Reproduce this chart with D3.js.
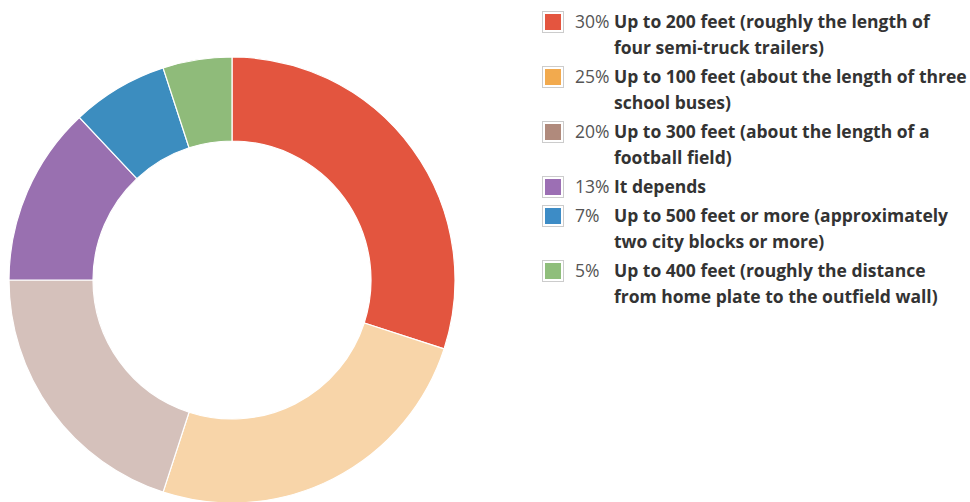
<!DOCTYPE html>
<html>
<head>
<meta charset="utf-8">
<script src="https://cdn.jsdelivr.net/npm/d3@7"></script>
<style>
body { margin: 0; background: #fff; }
svg { display: block; font-family: "Open Sans", sans-serif; }
.pct { fill: #555; font-size: 17.5px; }
.lbl { fill: #333; font-size: 17.5px; font-weight: bold; }
</style>
</head>
<body>
<div id="chart"></div>
<script>
var labels = [
	"Up to 200 feet (roughly the length of four semi-truck trailers)",
	"Up to 100 feet (about the length of three school buses)",
	"Up to 300 feet (about the length of a football field)",
	"It depends",
	"Up to 500 feet or more (approximately two city blocks or more)",
	"Up to 400 feet (roughly the distance from home plate to the outfield wall)"
];
var values = [30, 25, 20, 13, 7, 5];
var sliceColors = ["#e3553f", "#f8d5a9", "#d5c1bb", "#9970b0", "#3c8dbf", "#8fbb7a"];
var swatchColors = ["#e4553f", "#f2aa4e", "#b08a7c", "#9c6fb4", "#3d8cc6", "#8fbe7b"];

var width = 970, height = 502;
var svg = d3.select("#chart").append("svg")
			.attr("width", width)
			.attr("height", height);

var pie = d3.pie().sort(null).value(function(d){ return d; });
var arc = d3.arc().innerRadius(139).outerRadius(223);

var g = svg.append("g").attr("transform", "translate(232,280)");
g.selectAll("path")
	.data(pie(values))
	.enter()
	.append("path")
	.attr("d", arc)
	.attr("fill", function(d, i){ return sliceColors[i]; })
	.attr("stroke", "#fff")
	.attr("stroke-width", 1.2);

// legend
var lineH = 26, gap = 3, maxW = 355;
var legend = svg.append("g");
var y = 22;
for (var i = 0; i < labels.length; i++) {
	var item = legend.append("g").attr("transform", "translate(0," + y + ")");
	item.append("rect")
		.attr("x", 542.5).attr("y", -10.5)
		.attr("width", 21).attr("height", 21)
		.attr("fill", "#fff").attr("stroke", "#ccc");
	item.append("rect")
		.attr("x", 545).attr("y", -8)
		.attr("width", 16).attr("height", 16)
		.attr("fill", swatchColors[i]);
	item.append("text")
		.attr("class", "pct")
		.attr("x", 575).attr("y", 0)
		.attr("dy", "0.35em")
		.text(values[i] + "%");
	var t = item.append("text")
		.attr("class", "lbl")
		.attr("x", 614).attr("y", 0);
	var words = labels[i].split(" "), line = [], n = 0;
	var tspan = t.append("tspan").attr("x", 614).attr("dy", "0.35em");
	words.forEach(function(w){
		line.push(w);
		tspan.text(line.join(" "));
		if (tspan.node().getComputedTextLength() > maxW && line.length > 1) {
			line.pop();
			tspan.text(line.join(" "));
			line = [w];
			n++;
			tspan = t.append("tspan").attr("x", 614).attr("y", n * lineH).attr("dy", "0.35em").text(w);
		}
	});
	y += (n + 1) * lineH + gap;
}
</script>
</body>
</html>
